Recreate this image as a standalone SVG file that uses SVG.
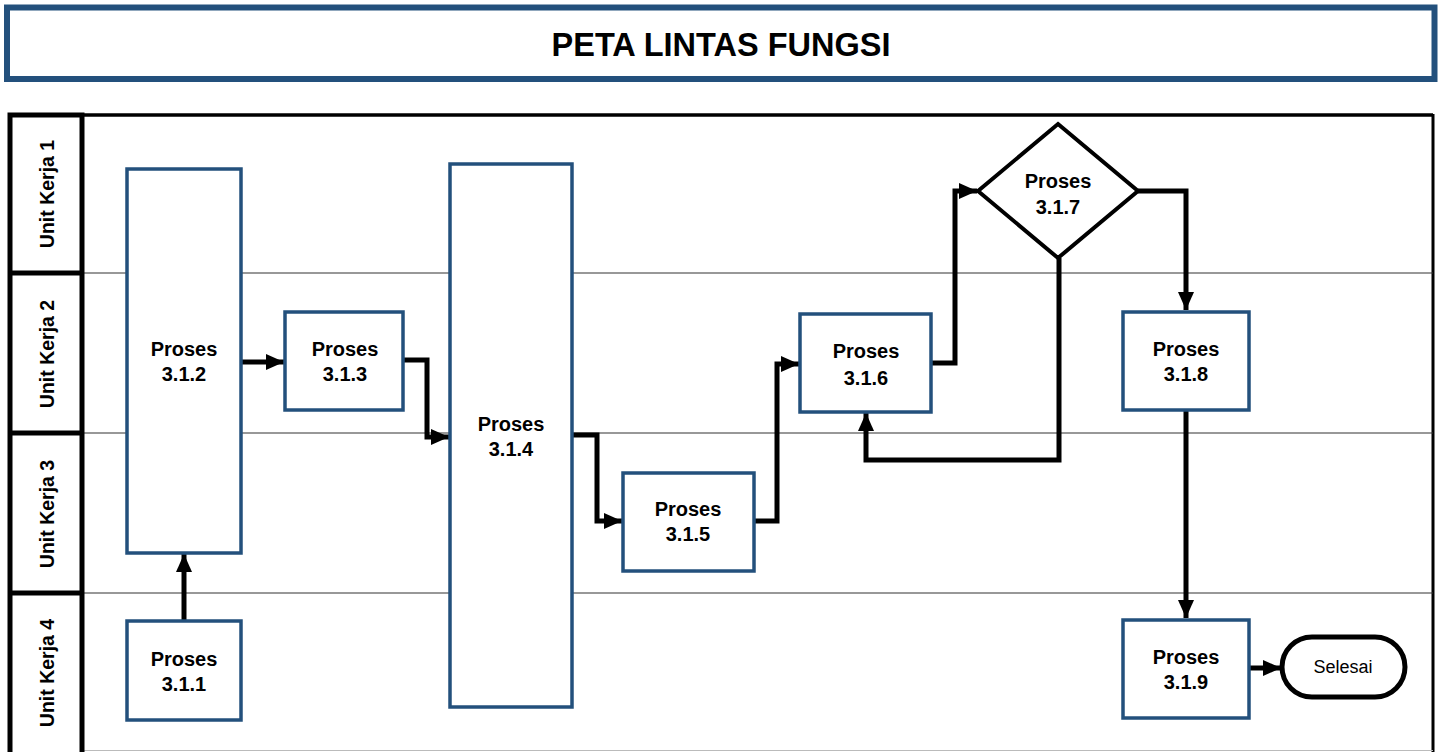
<svg xmlns="http://www.w3.org/2000/svg" width="1443" height="752" viewBox="0 0 1443 752">
<style>
.node{fill:#fff;stroke:#23507c;stroke-width:3.5}
.t{font-family:"Liberation Sans",Arial,sans-serif;font-weight:bold;font-size:20px;fill:#000;text-anchor:middle}
.lane{font-family:"Liberation Sans",Arial,sans-serif;font-weight:bold;font-size:19.5px;fill:#000;text-anchor:middle}
.c{fill:none;stroke:#000;stroke-width:5;marker-end:url(#ah)}
.div{stroke:#333;stroke-width:1.2}
</style>
<defs>
<marker id="ah" markerUnits="userSpaceOnUse" markerWidth="20" markerHeight="18" refX="18" refY="8" orient="auto">
<path d="M0,0 L18,8 L0,16 Z" fill="#000"/>
</marker>
</defs>
<rect width="1443" height="752" fill="#fff"/>
<g id="title">
<rect x="7" y="7.5" width="1427.5" height="71.5" fill="#fff" stroke="#23507c" stroke-width="6"/>
<text x="721" y="56" font-family="Liberation Sans,Arial,sans-serif" font-weight="bold" font-size="32.5" text-anchor="middle">PETA LINTAS FUNGSI</text>
</g>
<g id="lanes">
<line x1="82" y1="115" x2="1433" y2="115" stroke="#000" stroke-width="3.5"/>
<line x1="1433" y1="114" x2="1433" y2="752" stroke="#000" stroke-width="3"/>
<line class="div" x1="82" y1="273" x2="1433" y2="273"/>
<line class="div" x1="82" y1="433" x2="1433" y2="433"/>
<line class="div" x1="82" y1="593" x2="1433" y2="593"/>
<line x1="82" y1="750.5" x2="1433" y2="750.5" stroke="#bbb" stroke-width="1"/>
<rect x="10" y="115" width="72" height="645" fill="none" stroke="#000" stroke-width="5"/>
<line x1="10" y1="273" x2="82" y2="273" stroke="#000" stroke-width="5"/>
<line x1="10" y1="433" x2="82" y2="433" stroke="#000" stroke-width="5"/>
<line x1="10" y1="593" x2="82" y2="593" stroke="#000" stroke-width="5"/>
<text class="lane" transform="translate(54,194) rotate(-90)">Unit Kerja 1</text>
<text class="lane" transform="translate(54,354) rotate(-90)">Unit Kerja 2</text>
<text class="lane" transform="translate(54,514) rotate(-90)">Unit Kerja 3</text>
<text class="lane" transform="translate(54,673) rotate(-90)">Unit Kerja 4</text>
</g>
<g id="connectors">
<path class="c" d="M184,620 V554"/>
<path class="c" d="M242,362 H284"/>
<path class="c" d="M404,360 H427 V437 H449"/>
<path class="c" d="M572,435 H597 V521 H622"/>
<path class="c" d="M754,521 H777 V364 H799"/>
<path class="c" d="M932,363 H955 V191 H977"/>
<path class="c" d="M1059,258 V460 H866 V413"/>
<path class="c" d="M1138,191 H1186 V310"/>
<path class="c" d="M1186,410 V618"/>
<path class="c" d="M1249,668 H1281"/>
</g>
<g id="n311"><rect class="node" x="127" y="621" width="114" height="99"/><text class="t" x="184" y="666">Proses</text><text class="t" x="184" y="691">3.1.1</text></g>
<g id="n312"><rect class="node" x="127" y="169" width="114" height="384"/><text class="t" x="184" y="356">Proses</text><text class="t" x="184" y="381">3.1.2</text></g>
<g id="n313"><rect class="node" x="285" y="312" width="118" height="98"/><text class="t" x="345" y="356">Proses</text><text class="t" x="345" y="381">3.1.3</text></g>
<g id="n314"><rect class="node" x="450" y="164" width="122" height="543"/><text class="t" x="511" y="431">Proses</text><text class="t" x="511" y="456">3.1.4</text></g>
<g id="n315"><rect class="node" x="623" y="473" width="131" height="98"/><text class="t" x="688" y="516">Proses</text><text class="t" x="688" y="541">3.1.5</text></g>
<g id="n316"><rect class="node" x="800" y="314" width="131" height="98"/><text class="t" x="866" y="358">Proses</text><text class="t" x="866" y="385">3.1.6</text></g>
<g id="n317"><path d="M1058,124 L1138,191 L1058,258 L978,191 Z" fill="#fff" stroke="#000" stroke-width="4"/><text class="t" x="1058" y="188">Proses</text><text class="t" x="1058" y="214">3.1.7</text></g>
<g id="n318"><rect class="node" x="1123" y="312" width="126" height="98"/><text class="t" x="1186" y="356">Proses</text><text class="t" x="1186" y="381">3.1.8</text></g>
<g id="n319"><rect class="node" x="1123" y="620" width="126" height="98"/><text class="t" x="1186" y="664">Proses</text><text class="t" x="1186" y="689">3.1.9</text></g>
<g id="selesai"><rect x="1282" y="637" width="123" height="60" rx="30" fill="#fff" stroke="#000" stroke-width="5"/><text x="1343" y="673" font-family="Liberation Sans,Arial,sans-serif" font-size="18" text-anchor="middle">Selesai</text></g>
</svg>
